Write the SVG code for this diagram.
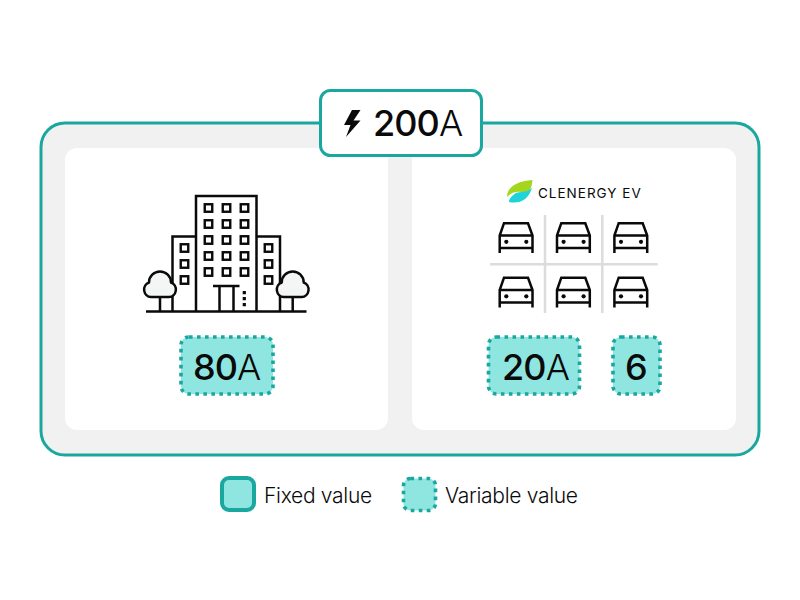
<svg xmlns="http://www.w3.org/2000/svg" width="800" height="600" viewBox="0 0 800 600">
<style>
text{font-family:"Inter","Liberation Sans",sans-serif;fill:#0a0a0a}
.val{font-size:36px;font-weight:500;letter-spacing:-.900px}
.val .u{font-weight:300}
.leg{font-size:21px;font-weight:300;letter-spacing:-.300px}
.fix{fill:#8fe6e1;stroke:#1aa7a0;stroke-width:4}
.var{fill:#8fe6e1;stroke:#1aa7a0;stroke-width:3.600;stroke-dasharray:3.600 4.400}
.ln{fill:none;stroke:#0a0a0a;stroke-width:2.500}
.grid{stroke:#dcdcdc;stroke-width:2.500;fill:none}
</style>
<defs>
<rect id="w" width="7.500" height="7.500" x="-3.750" y="-3.750" fill="#fff" stroke="#0a0a0a" stroke-width="2.400"/>
<g id="car" fill="none" stroke="#0a0a0a" stroke-width="2.500">
<path d="M1.200 31V13.500L5.500 1.200H29.500L34 13.500V31"/>
<path d="M1.200 13.500H34M1.200 26H34"/>
<circle cx="7.800" cy="19.800" r="2.100" fill="#0a0a0a" stroke="none"/>
<circle cx="27.800" cy="19.800" r="2.100" fill="#0a0a0a" stroke="none"/>
</g>
<path id="crown" d="M-9-1A7.500 7.500 0 0 1-11-15.500A11 11 0 0 1 11-15.500A7.500 7.500 0 0 1 9-1Z" fill="#f4f6f5" stroke="#0a0a0a" stroke-width="2.500" stroke-linejoin="round"/>
</defs>

<g id="frame">
<rect x="41" y="123" width="718" height="332" rx="24" fill="#f1f1f1" stroke="#1aa7a0" stroke-width="3"/>
</g>
<g id="panel-building">
<rect x="65" y="148" width="323" height="282" rx="12" fill="#fff"/>
<g id="building-icon">
<path class="ln" d="M196 311.500V196H256.500V311.500M196 236.500H172.500V311.500M256.500 236.500H280V311.500M146 311.500H306.500"/>
<g>
<use href="#w" x="208.500" y="208"/><use href="#w" x="226.500" y="208"/><use href="#w" x="244.500" y="208"/>
<use href="#w" x="208.500" y="224"/><use href="#w" x="226.500" y="224"/><use href="#w" x="244.500" y="224"/>
<use href="#w" x="208.500" y="240"/><use href="#w" x="226.500" y="240"/><use href="#w" x="244.500" y="240"/>
<use href="#w" x="208.500" y="256"/><use href="#w" x="226.500" y="256"/><use href="#w" x="244.500" y="256"/>
<use href="#w" x="208.500" y="272"/><use href="#w" x="226.500" y="272"/><use href="#w" x="244.500" y="272"/>
<use href="#w" x="184.500" y="248"/><use href="#w" x="184.500" y="264"/><use href="#w" x="184.500" y="280"/>
<use href="#w" x="268.500" y="248"/><use href="#w" x="268.500" y="264"/><use href="#w" x="268.500" y="280"/>
</g>
<path class="ln" d="M213 286H239.500M219.500 286V311.500M233.500 286V311.500"/>
<path d="M242.700 291h3.200v3.200h-3.200zM242.700 297h3.200v3.200h-3.200zM242.700 303h3.200v3.200h-3.200z" fill="#0a0a0a"/>
<path class="ln" d="M160 297V311.500M292.700 297V311.500"/>
<use href="#crown" x="160" y="298"/>
<use href="#crown" x="292.700" y="298"/>
</g>
</g>
<g id="panel-chargers">
<rect x="412" y="148" width="324" height="282" rx="12" fill="#fff"/>
<g id="logo">
<path d="M507 197C507 187 517 181 532.500 180C532 187 530 191 527 194C519 190 512 192 507 197Z" fill="#a5d61f"/>
<path d="M509 202C518 204 530 201 532.500 185C532 192 524 191 516 193C513 195 509 198 509 202Z" fill="#1fd3d8"/>
<text x="538" y="198" font-size="13.500" style="font-weight:400" letter-spacing="1">CLENERGY EV</text>
</g>
<path class="grid" d="M545 215V313M602.300 215V313M490 264.300H657.700"/>
<use href="#car" x="498.500" y="222"/><use href="#car" x="555.800" y="222"/><use href="#car" x="613.200" y="222"/>
<use href="#car" x="498.500" y="276.500"/><use href="#car" x="555.800" y="276.500"/><use href="#car" x="613.200" y="276.500"/>
</g>
<g id="total">
<rect x="320.500" y="90.500" width="161" height="65" rx="10" fill="#fff" stroke="#1aa7a0" stroke-width="3"/>
<path d="M352 110L344 125H350.500L346 137L360.500 120.500H353.500L360.500 110Z" fill="#0a0a0a"/>
<text class="val" x="373" y="136">200<tspan class="u">A</tspan></text>
</g>
<g id="value-80a">
<rect class="var" x="181" y="337" width="92" height="57" rx="8"/>
<text class="val" x="193" y="380">80<tspan class="u">A</tspan></text>
</g>
<g id="value-20a">
<rect class="var" x="488.500" y="337" width="91" height="57" rx="8"/>
<text class="val" x="502" y="380">20<tspan class="u">A</tspan></text>
</g>
<g id="value-6">
<rect class="var" x="613" y="337" width="47" height="57" rx="8"/>
<text class="val" x="636" y="380" text-anchor="middle">6</text>
</g>
<g id="legend-fixed">
<rect class="fix" x="222" y="478" width="32" height="32" rx="7"/>
<text class="leg" x="264" y="503">Fixed value</text>
</g>
<g id="legend-variable">
<rect class="var" x="403.500" y="478.500" width="32" height="32" rx="7"/>
<text class="leg" x="445" y="503">Variable value</text>
</g>
</svg>
